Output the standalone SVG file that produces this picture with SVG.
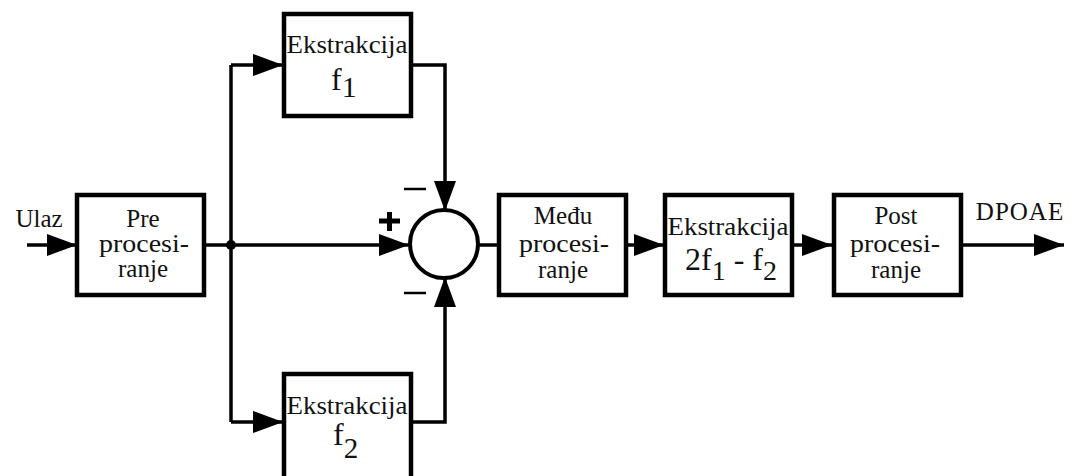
<svg xmlns="http://www.w3.org/2000/svg" width="1074" height="476" viewBox="0 0 1074 476">
<style>
.box{fill:#fff;stroke:#000;stroke-width:4.5}
.ln{fill:none;stroke:#000;stroke-width:3.5}
text{font-family:"Liberation Serif","DejaVu Serif","Noto Serif","Times New Roman",serif}
.t{font-size:25px;fill:#111;text-anchor:middle}
.f{font-size:32px;fill:#111}
</style>
<defs>
<marker id="ah" markerUnits="userSpaceOnUse" markerWidth="30" markerHeight="22" refX="30" refY="11" orient="auto">
<path d="M0,0 L30,11 L0,22 Z" fill="#000"/>
</marker>
</defs>
<rect width="1074" height="476" fill="#fff"/>
<g id="connectors">
<line class="ln" x1="27" y1="245" x2="77" y2="245" marker-end="url(#ah)"/>
<line class="ln" x1="205" y1="245" x2="409" y2="245" marker-end="url(#ah)"/>
<circle cx="231" cy="245" r="5" fill="#000"/>
<polyline class="ln" points="231,422 231,65"/>
<line class="ln" x1="231" y1="65" x2="283" y2="65" marker-end="url(#ah)"/>
<line class="ln" x1="231" y1="422" x2="283" y2="422" marker-end="url(#ah)"/>
<polyline class="ln" points="412,65 445,65 445,211" marker-end="url(#ah)"/>
<polyline class="ln" points="412,422 445,422 445,277" marker-end="url(#ah)"/>
<line class="ln" x1="478" y1="245" x2="498" y2="245"/>
<line class="ln" x1="627" y1="245" x2="664" y2="245" marker-end="url(#ah)"/>
<line class="ln" x1="794" y1="245" x2="832" y2="245" marker-end="url(#ah)"/>
<line class="ln" x1="962" y1="245" x2="1064" y2="245" marker-end="url(#ah)"/>
</g>
<g id="input-label"><text class="t" x="39" y="227">Ulaz</text></g>
<g id="pre">
<rect class="box" x="77" y="195" width="127" height="100"/>
<text class="t" x="143" y="227">Pre</text>
<text class="t" x="144" y="252" textLength="90" lengthAdjust="spacingAndGlyphs">procesi-</text>
<text class="t" x="143" y="277">ranje</text>
</g>
<g id="ekstrakcija-f1">
<rect class="box" x="284" y="14" width="127" height="102"/>
<text class="t" x="347" y="53" textLength="121" lengthAdjust="spacingAndGlyphs">Ekstrakcija</text>
<text class="f" x="331" y="90" font-size="31">f<tspan font-size="30" dy="7">1</tspan></text>
</g>
<g id="ekstrakcija-f2">
<rect class="box" x="284" y="374" width="127" height="110"/>
<text class="t" x="347" y="414" textLength="121" lengthAdjust="spacingAndGlyphs">Ekstrakcija</text>
<text class="f" x="333" y="445" font-size="26">f<tspan font-size="29" dy="13">2</tspan></text>
</g>
<g id="sum">
<circle cx="444" cy="244" r="34" fill="#fff" stroke="#000" stroke-width="4"/>
<path d="M379,221 H400 M389.5,212 V231" stroke="#000" stroke-width="5"/>
<line x1="404" y1="189" x2="426" y2="189" stroke="#000" stroke-width="2.5"/>
<line x1="404" y1="293" x2="426" y2="293" stroke="#000" stroke-width="2.5"/>
</g>
<g id="medu">
<rect class="box" x="499" y="195" width="127" height="100"/>
<text class="t" x="563" y="224">Među</text>
<text class="t" x="564" y="252" textLength="90" lengthAdjust="spacingAndGlyphs">procesi-</text>
<text class="t" x="563" y="278">ranje</text>
</g>
<g id="ekstrakcija-2f1-f2">
<rect class="box" x="665" y="195" width="127" height="100"/>
<text class="t" x="728" y="235" textLength="121" lengthAdjust="spacingAndGlyphs">Ekstrakcija</text>
<text class="f" x="685" y="270" font-size="29">2f<tspan font-size="28" dy="10">1</tspan><tspan dy="-10"> - f</tspan><tspan font-size="28" dy="10">2</tspan></text>
</g>
<g id="post">
<rect class="box" x="834" y="195" width="127" height="100"/>
<text class="t" x="896" y="224">Post</text>
<text class="t" x="895" y="252" textLength="90" lengthAdjust="spacingAndGlyphs">procesi-</text>
<text class="t" x="896" y="278">ranje</text>
</g>
<g id="output-label"><text class="t" x="1020" y="220" letter-spacing="1">DPOAE</text></g>
</svg>
